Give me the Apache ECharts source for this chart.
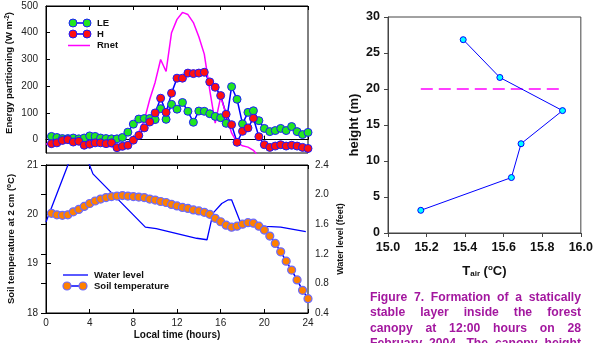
<!DOCTYPE html>
<html>
<head>
<meta charset="utf-8">
<script src="https://cdn.jsdelivr.net/npm/echarts@6/dist/echarts.min.js"></script>
<style>
  html, body { margin: 0; padding: 0; background: #fff; }
  #wrap { position: relative; width: 596px; height: 343px; overflow: hidden; }
  #chart { position: absolute; left: 0; top: 0; width: 596px; height: 343px; }
  #caption {
    position: absolute; left: 370px; top: 290px; width: 211px;
    font-family: "Liberation Sans", Arial, sans-serif; font-weight: bold;
    font-size: 12.2px; line-height: 15.3px; color: #a3179f;
  }
  #caption div { text-align: justify; text-align-last: justify; white-space: nowrap; }
</style>
</head>
<body>
<div id="wrap">
  <div id="chart"></div>
  <div id="caption">
    <div>Figure 7. Formation of a statically</div>
    <div>stable layer inside the forest</div>
    <div>canopy at 12:00 hours on 28</div>
    <div>February 2004. The canopy height</div>
  </div>
</div>
<script>
// half-hourly sample times (hours)
const halfHours = [0.5, 1, 1.5, 2, 2.5, 3, 3.5, 4, 4.5, 5, 5.5, 6, 6.5, 7, 7.5, 8, 8.5, 9, 9.5, 10,
  10.5, 11, 11.5, 12, 12.5, 13, 13.5, 14, 14.5, 15, 15.5, 16, 16.5, 17, 17.5, 18, 18.5, 19, 19.5, 20,
  20.5, 21, 21.5, 22, 22.5, 23, 23.5, 24];

// energy partitioning (W m-2)
const leFlux = [12, 8, 4, 4, 6, 3, 6, 14, 12, 6, 4, 3, 3, 8, 28, 58, 77, 79, 79, 75,
  116, 76, 132, 114, 139, 106, 65, 107, 106, 97, 87, 82, 61, 198, 151, 59, 102, 108, 71, 42,
  30, 34, 42, 34, 49, 30, 19, 27];
const hFlux = [-15, -12, -3, 0, -9, -6, -21, -17, -12, -12, -15, -12, -30, -25, -21, -2, 16, 44, 66, 100,
  155, 102, 174, 230, 230, 249, 247, 249, 252, 216, 196, 165, 95, 56, -10, 31, 44, 80, 11, -19,
  -29, -24, -19, -24, -21, -24, -29, -33];
const rnetHours = [0, 0.5, 1, 1.5, 2, 2.5, 3, 3.5, 4, 4.5, 5, 5.5, 6, 6.5, 7, 7.5, 8, 8.5, 9, 9.5, 10,
  10.5, 11, 11.5, 12, 12.5, 13, 13.5, 14, 14.5, 15, 15.5, 16, 16.5, 17, 17.5, 18, 18.5, 19, 19.5, 20,
  20.5, 21, 21.5, 22, 22.5, 23, 23.5, 24];
const rnet = [-16, -15, -13, -12, -11, -10, -9, -9, -10, -13, -18, -24, -27, -28, -26, -18, -2, 28, 72, 150, 215,
  300, 255, 400, 450, 476, 468, 438, 385, 320, 185, 62, 160, 95, 25, -10, -23, -28, -40, -65, -70,
  -70, -72, -70, -72, -70, -72, -70, -70];

// soil temperature at 2 cm (°C)
const soilTemp = [20.02, 19.99, 19.98, 19.99, 20.05, 20.10, 20.16, 20.22, 20.27, 20.31,
  20.34, 20.36, 20.37, 20.38, 20.37, 20.36, 20.35, 20.34, 20.31, 20.29,
  20.26, 20.24, 20.20, 20.17, 20.14, 20.12, 20.09, 20.07, 20.04, 20.00,
  19.92, 19.85, 19.78, 19.74, 19.76, 19.80, 19.83, 19.82, 19.76, 19.68,
  19.56, 19.41, 19.24, 19.05, 18.87, 18.67, 18.46, 18.29];

// water level (feet)
const waterHours = [0, 3, 4.3, 9.1, 10.1, 13.8, 14.75, 15.3, 16.1, 16.7, 17.0, 17.8, 18.4, 20.2, 21.5, 23.8];
const waterLevel = [1.63, 2.78, 2.28, 1.56, 1.54, 1.41, 1.39, 1.75, 1.88, 1.93, 1.93, 1.63, 1.59, 1.57, 1.56, 1.50];

// air temperature profile at 12:00
const tairT = [15.17, 15.64, 15.69, 15.905, 15.58, 15.39];
const heightM = [3.15, 7.7, 12.4, 17.0, 21.6, 26.85];
const canopyT = [15.17, 15.9];
const canopyH = [20, 20];

const energyTicks = [0, 100, 200, 300, 400, 500];

const pairs = (xs, ys) => xs.map((x, i) => [x, ys[i]]);

const font = "'Liberation Sans', Arial, sans-serif";
const legendFont = "bold 9.5px 'Liberation Sans', Arial, sans-serif";
const smallLabel = { color: '#222', fontSize: 10, fontFamily: font };
const boldName = { color: '#111', fontSize: 9.5, fontWeight: 'bold', fontFamily: font };
const bigLabel = { color: '#111', fontSize: 12.5, fontWeight: 'bold', fontFamily: font };
const blackLine = { lineStyle: { color: '#000', width: 1 } };
const grayLine = { lineStyle: { color: '#444', width: 1 } };
const supStyle = { fontSize: 6.5, fontWeight: 'bold', fontFamily: font, color: '#111', verticalAlign: 'top', padding: [0, 0, 4, 0] };

const chart = echarts.init(document.getElementById('chart'), null, { renderer: 'canvas' });

chart.setOption({
  animation: false,
  backgroundColor: '#fff',
  grid: [
    { left: 46, top: 6, width: 262, height: 147, show: true, borderColor: '#000', borderWidth: 1 },
    { left: 46, top: 165, width: 262, height: 148, show: true, borderColor: '#000', borderWidth: 1 },
    { left: 388, top: 17, width: 197, height: 216, show: true, borderColor: '#444', borderWidth: 1 }
  ],
  xAxis: [
    {
      type: 'value', gridIndex: 0, min: 0, max: 24, interval: 4,
      axisLine: blackLine, axisTick: { inside: true, length: 4, lineStyle: { color: '#000' } },
      axisLabel: { show: false }, splitLine: { show: false }
    },
    {
      type: 'value', gridIndex: 0, position: 'top', min: 0, max: 24, interval: 4,
      axisLine: blackLine, axisTick: { inside: true, length: 4, lineStyle: { color: '#000' } },
      axisLabel: { show: false }, splitLine: { show: false }
    },
    {
      type: 'value', gridIndex: 1, min: 0, max: 24, interval: 4,
      axisLine: blackLine, axisTick: { inside: true, length: 4, lineStyle: { color: '#000' } },
      axisLabel: Object.assign({ margin: 5 }, smallLabel), splitLine: { show: false },
      name: 'Local time (hours)', nameLocation: 'middle', nameGap: 17,
      nameTextStyle: Object.assign({}, boldName, { fontSize: 10 })
    },
    {
      type: 'value', gridIndex: 1, position: 'top', min: 0, max: 24, interval: 4,
      axisLine: blackLine, axisTick: { inside: true, length: 4, lineStyle: { color: '#000' } },
      axisLabel: { show: false }, splitLine: { show: false }
    },
    {
      type: 'value', gridIndex: 2, min: 15, max: 16, interval: 0.2,
      axisLine: grayLine, axisTick: { length: 4, lineStyle: { color: '#444' } },
      axisLabel: Object.assign({ margin: 8, formatter: v => v.toFixed(1) }, bigLabel),
      splitLine: { show: false },
      name: 'T{sub|air} ({sup|o}C)', nameLocation: 'middle', nameGap: 31,
      nameTextStyle: Object.assign({}, bigLabel, {
        fontSize: 13,
        rich: {
          sub: { fontSize: 8, fontWeight: 'bold', fontFamily: font, color: '#111', verticalAlign: 'bottom', padding: [6, 0, 0, 0] },
          sup: { fontSize: 8, fontWeight: 'bold', fontFamily: font, color: '#111', verticalAlign: 'top', padding: [0, 0, 5, 0] }
        }
      })
    }
  ],
  yAxis: [
    {
      type: 'value', gridIndex: 0, min: -50, max: 500,
      axisLine: blackLine,
      axisTick: { inside: true, length: 4, lineStyle: { color: '#000' }, customValues: energyTicks },
      axisLabel: Object.assign({ margin: 8, customValues: energyTicks }, smallLabel),
      splitLine: { show: false },
      name: 'Energy partitioning (W m{sup|-2})', nameLocation: 'middle', nameGap: 31,
      nameTextStyle: Object.assign({}, boldName, { padding: [0, 0, 0, 13], rich: { sup: supStyle } })
    },
    {
      type: 'value', gridIndex: 1, min: 18, max: 21, interval: 1,
      axisLine: blackLine, axisTick: { inside: true, length: 5, lineStyle: { color: '#000' } },
      axisLabel: Object.assign({ margin: 8 }, smallLabel),
      splitLine: { show: false },
      name: 'Soil temperature at 2 cm ({sup|o}C)', nameLocation: 'middle', nameGap: 29,
      nameTextStyle: Object.assign({}, boldName, { rich: { sup: supStyle } })
    },
    {
      type: 'value', gridIndex: 1, position: 'right', min: 0.4, max: 2.4, interval: 0.4,
      axisLine: blackLine, axisTick: { inside: true, length: 5, lineStyle: { color: '#000' } },
      axisLabel: Object.assign({ margin: 7, formatter: v => v.toFixed(1) }, smallLabel),
      splitLine: { show: false },
      name: 'Water level (feet)', nameLocation: 'middle', nameGap: 28, nameRotate: 90,
      nameTextStyle: Object.assign({}, boldName, { fontSize: 9 })
    },
    {
      type: 'value', gridIndex: 2, min: 0, max: 30, interval: 5,
      axisLine: grayLine, axisTick: { length: 4, lineStyle: { color: '#444' } },
      axisLabel: Object.assign({ margin: 8 }, bigLabel),
      splitLine: { show: false },
      name: 'height (m)', nameLocation: 'middle', nameGap: 27,
      nameTextStyle: Object.assign({}, bigLabel, { fontSize: 13 })
    }
  ],
  series: [
    {
      name: 'LE', type: 'line', xAxisIndex: 0, yAxisIndex: 0,
      data: pairs(halfHours, leFlux),
      symbol: 'circle', symbolSize: 8,
      lineStyle: { color: '#0000ff', width: 1.5 },
      itemStyle: { color: '#22e622', borderColor: '#1a1aff', borderWidth: 1 }
    },
    {
      name: 'H', type: 'line', xAxisIndex: 0, yAxisIndex: 0,
      data: pairs(halfHours, hFlux),
      symbol: 'circle', symbolSize: 8,
      lineStyle: { color: '#0000ff', width: 1.5 },
      itemStyle: { color: '#ff1010', borderColor: '#1a1aff', borderWidth: 1 }
    },
    {
      name: 'Rnet', type: 'line', xAxisIndex: 0, yAxisIndex: 0,
      data: pairs(rnetHours, rnet),
      showSymbol: false, clip: true,
      lineStyle: { color: '#ff00ff', width: 1.5 }
    },
    {
      name: 'Water level', type: 'line', xAxisIndex: 2, yAxisIndex: 2,
      data: pairs(waterHours, waterLevel),
      showSymbol: false, clip: true,
      lineStyle: { color: '#0000ff', width: 1.3 }
    },
    {
      name: 'Soil temperature', type: 'line', xAxisIndex: 2, yAxisIndex: 1,
      data: pairs(halfHours, soilTemp),
      symbol: 'circle', symbolSize: 8,
      lineStyle: { color: '#0000ff', width: 1.5 },
      itemStyle: { color: '#ff8000', borderColor: '#6a6aff', borderWidth: 1.2 }
    },
    {
      name: 'Canopy height', type: 'line', xAxisIndex: 4, yAxisIndex: 3,
      data: pairs(canopyT, canopyH),
      showSymbol: false,
      lineStyle: { color: '#ff00ff', width: 1.5, type: [12, 6] }
    },
    {
      name: 'Tair profile', type: 'line', xAxisIndex: 4, yAxisIndex: 3,
      data: pairs(tairT, heightM),
      symbol: 'circle', symbolSize: 6,
      lineStyle: { color: '#0000ff', width: 1 },
      itemStyle: { color: '#00ffff', borderColor: '#0000ff', borderWidth: 1 }
    }
  ],
  graphic: [
    // top legend
    { type: 'line', shape: { x1: 73, y1: 23, x2: 87, y2: 23 }, style: { stroke: '#0000ff', lineWidth: 1.5 } },
    { type: 'circle', shape: { cx: 73, cy: 23, r: 4 }, style: { fill: '#22e622', stroke: '#1a1aff', lineWidth: 1 } },
    { type: 'circle', shape: { cx: 87, cy: 23, r: 4 }, style: { fill: '#22e622', stroke: '#1a1aff', lineWidth: 1 } },
    { type: 'text', x: 97, y: 23, style: { text: 'LE', verticalAlign: 'middle', fill: '#111', font: legendFont } },
    { type: 'line', shape: { x1: 73, y1: 34, x2: 87, y2: 34 }, style: { stroke: '#0000ff', lineWidth: 1.5 } },
    { type: 'circle', shape: { cx: 73, cy: 34, r: 4 }, style: { fill: '#ff1010', stroke: '#1a1aff', lineWidth: 1 } },
    { type: 'circle', shape: { cx: 87, cy: 34, r: 4 }, style: { fill: '#ff1010', stroke: '#1a1aff', lineWidth: 1 } },
    { type: 'text', x: 97, y: 34, style: { text: 'H', verticalAlign: 'middle', fill: '#111', font: legendFont } },
    { type: 'line', shape: { x1: 68, y1: 45.5, x2: 90, y2: 45.5 }, style: { stroke: '#ff00ff', lineWidth: 1.5 } },
    { type: 'text', x: 97, y: 45.5, style: { text: 'Rnet', verticalAlign: 'middle', fill: '#111', font: legendFont } },
    // bottom legend
    { type: 'line', shape: { x1: 63, y1: 275, x2: 88, y2: 275 }, style: { stroke: '#0000ff', lineWidth: 1.3 } },
    { type: 'text', x: 94, y: 275, style: { text: 'Water level', verticalAlign: 'middle', fill: '#111', font: legendFont } },
    { type: 'line', shape: { x1: 67, y1: 286, x2: 83, y2: 286 }, style: { stroke: '#0000ff', lineWidth: 1.5 } },
    { type: 'circle', shape: { cx: 67, cy: 286, r: 4 }, style: { fill: '#ff8000', stroke: '#6a6aff', lineWidth: 1.2 } },
    { type: 'circle', shape: { cx: 83, cy: 286, r: 4 }, style: { fill: '#ff8000', stroke: '#6a6aff', lineWidth: 1.2 } },
    { type: 'text', x: 94, y: 286, style: { text: 'Soil temperature', verticalAlign: 'middle', fill: '#111', font: legendFont } }
  ]
});
</script>
</body>
</html>
